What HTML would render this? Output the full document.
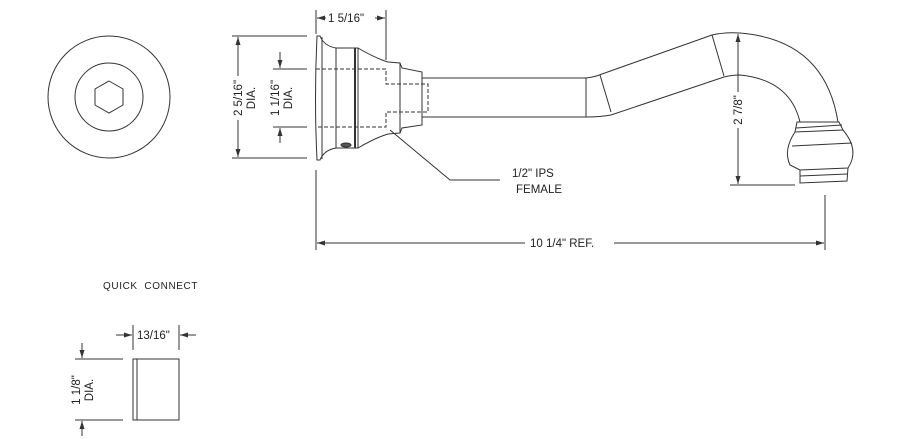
<!DOCTYPE html>
<html><head><style>body{margin:0;background:#fff}svg{display:block}text{font-family:"Liberation Sans",sans-serif;font-size:11.5px;fill:#222;stroke:none}</style></head><body>
<svg width="900" height="439" viewBox="0 0 900 439" xmlns="http://www.w3.org/2000/svg" fill="none" stroke="#333" stroke-width="1">
<defs><marker id="a" markerWidth="8" markerHeight="6" refX="8" refY="3" orient="auto" markerUnits="userSpaceOnUse"><path d="M0,0.5 L8,3 L0,5.5z" fill="#333" stroke="none"/></marker></defs>
<circle cx="109" cy="97" r="61"/><circle cx="109" cy="97" r="34"/>
<polygon points="109,81 123,89 123,105 109,113 95,105 95,89"/>
<path d="M317,36 L320,36 Q324,46 336,48 L358,48 L358,148 L336,148 Q324,150 320,160 L317,160 Q314,98 317,36Z"/>
<line x1="322" y1="37" x2="322" y2="159"/>
<rect x="336" y="48" width="22" height="100"/>
<line x1="355" y1="48" x2="355" y2="148" stroke-width="2"/>
<path d="M358,48 Q375,58 388,62 L400,63 L400,133 L388,134 Q375,138 358,148"/>
<path d="M400,63 L402,68 L422,72 L422,125 L402,128 L400,133"/>
<ellipse cx="346" cy="145" rx="5" ry="2" fill="#555"/>
<path d="M316,69 L386,69 L386,84 L428,84 L428,112 L386,112 L386,127 L316,127" stroke-dasharray="4,2"/>
<path d="M422,78 L586,78 L586,117 L422,117"/>
<path d="M586,78 Q595,77 602,74 L712,35 Q725,32 740,33 Q825,40 838,122"/>
<path d="M586,117 Q600,117 611,115 L724,77 Q732,75 740,75 Q790,80 800,122"/>
<line x1="600" y1="75" x2="611" y2="112"/><line x1="712" y1="35" x2="724" y2="76"/>
<path d="M797,122 L839,122 L843,130 L795,132Z"/>
<line x1="796" y1="128" x2="842" y2="125"/>
<path d="M795,132 Q783,150 790,165 L800,170 L848,168 Q860,150 843,130"/>
<line x1="792" y1="146" x2="852" y2="143"/>
<path d="M800,170 L800,183 L847,181 L848,168"/><line x1="800" y1="176" x2="847" y2="174"/>
<line x1="316" y1="10" x2="316" y2="34"/><line x1="386" y1="10" x2="386" y2="60"/>
<line x1="326" y1="18" x2="317" y2="18" marker-end="url(#a)"/><line x1="375" y1="18" x2="385" y2="18" marker-end="url(#a)"/>
<text x="328" y="22">1 5/16"</text>
<line x1="232" y1="36" x2="307" y2="36"/><line x1="232" y1="158" x2="307" y2="158"/>
<line x1="238" y1="76" x2="238" y2="37" marker-end="url(#a)"/><line x1="238" y1="120" x2="238" y2="157" marker-end="url(#a)"/>
<text transform="translate(242,98) rotate(-90)" text-anchor="middle">2 5/16"</text>
<text transform="translate(255,98) rotate(-90)" text-anchor="middle">DIA.</text>
<line x1="273" y1="69" x2="307" y2="69"/><line x1="273" y1="127" x2="307" y2="127"/>
<line x1="280" y1="52" x2="280" y2="68" marker-end="url(#a)"/><line x1="280" y1="143" x2="280" y2="128" marker-end="url(#a)"/>
<text transform="translate(279,98) rotate(-90)" text-anchor="middle">1 1/16"</text>
<text transform="translate(292,98) rotate(-90)" text-anchor="middle">DIA.</text>
<polyline points="390,130 450,180 500,180"/>
<text x="512" y="177">1/2" IPS</text><text x="516" y="193">FEMALE</text>
<line x1="738" y1="92" x2="738" y2="34" marker-end="url(#a)"/><line x1="738" y1="128" x2="738" y2="184" marker-end="url(#a)"/>
<line x1="730" y1="185" x2="795" y2="185"/>
<text transform="translate(742,110) rotate(-90)" text-anchor="middle">2 7/8"</text>
<line x1="316" y1="170" x2="316" y2="250"/><line x1="825" y1="195" x2="825" y2="250"/>
<line x1="525" y1="243" x2="317" y2="243" marker-end="url(#a)"/><line x1="614" y1="243" x2="824" y2="243" marker-end="url(#a)"/>
<text x="530" y="247">10 1/4" REF.</text>
<text x="103" y="289" style="font-size:10px;letter-spacing:0.6px" xml:space="preserve">QUICK  CONNECT</text>
<rect x="133" y="359" width="46" height="61"/><line x1="137" y1="359" x2="137" y2="420"/>
<line x1="133" y1="325" x2="133" y2="350"/><line x1="179" y1="325" x2="179" y2="350"/>
<line x1="116" y1="335" x2="132" y2="335" marker-end="url(#a)"/><line x1="196" y1="335" x2="180" y2="335" marker-end="url(#a)"/>
<text x="137" y="339">13/16"</text>
<line x1="75" y1="359" x2="123" y2="359"/><line x1="75" y1="420" x2="123" y2="420"/>
<line x1="82" y1="343" x2="82" y2="358" marker-end="url(#a)"/><line x1="82" y1="436" x2="82" y2="421" marker-end="url(#a)"/>
<text transform="translate(80,390) rotate(-90)" text-anchor="middle">1 1/8"</text>
<text transform="translate(93,390) rotate(-90)" text-anchor="middle">DIA.</text>
</svg>
</body></html>
